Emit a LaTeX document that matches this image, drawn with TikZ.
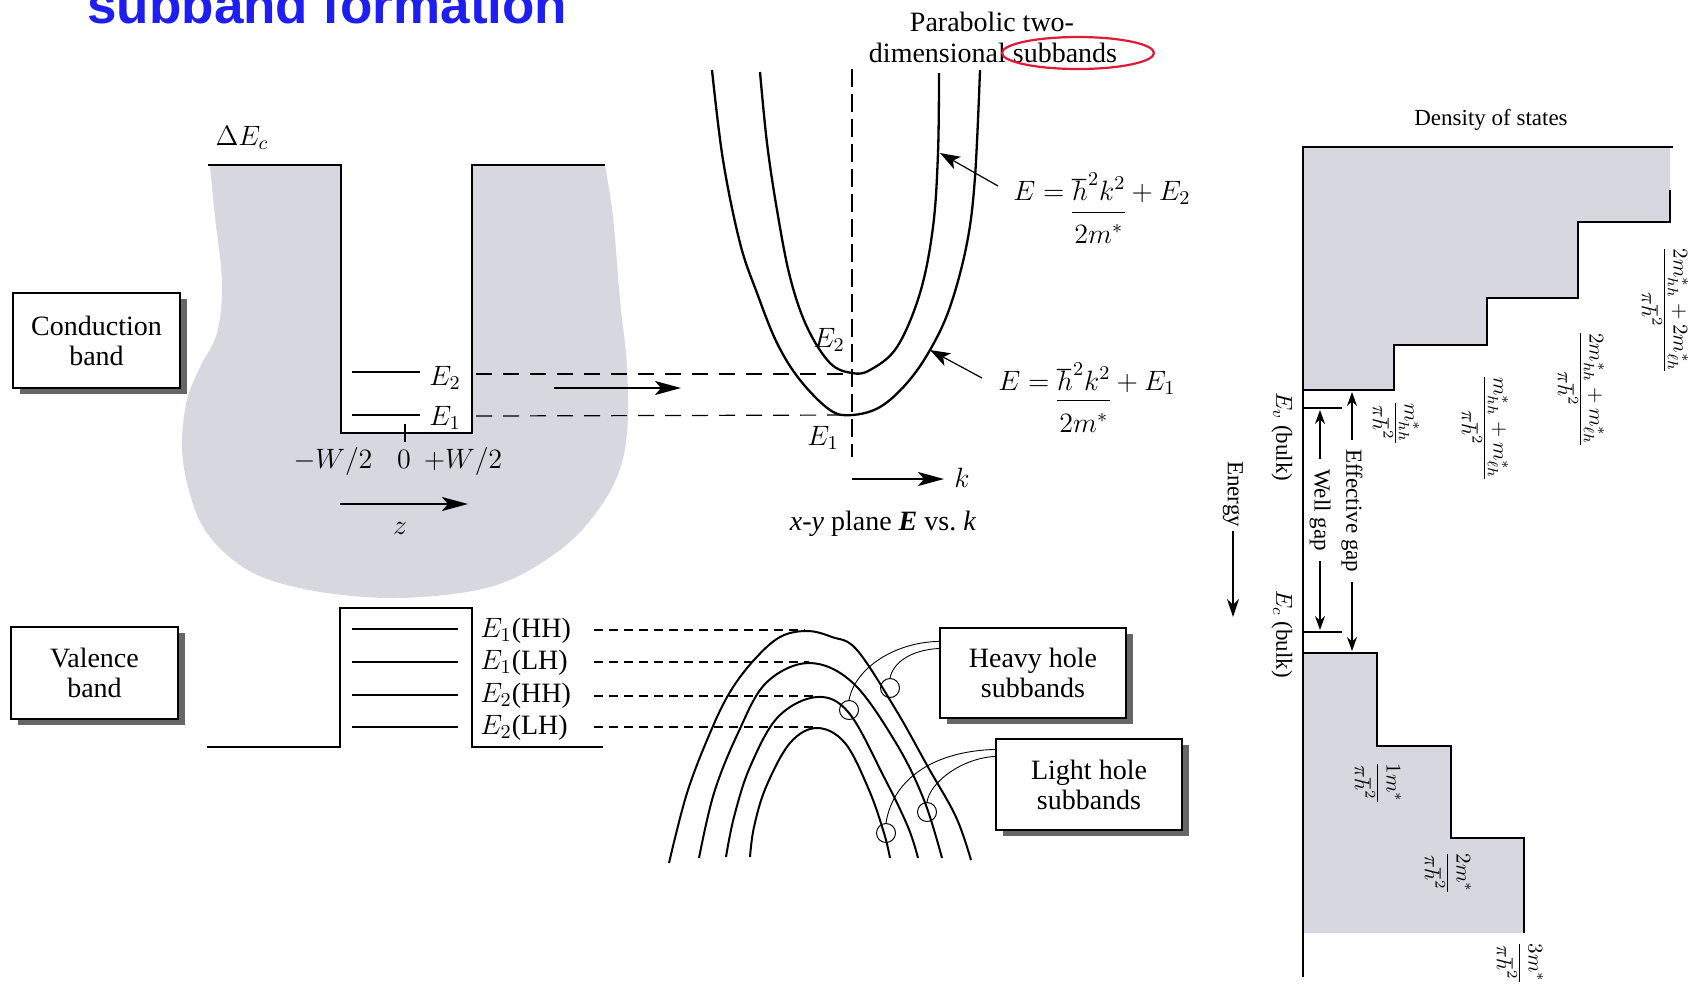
\RequirePackage{fix-cm}
\documentclass[tikz,border=0pt]{standalone}
\usepackage{fontspec}
\setmainfont{Liberation Serif}
\newfontfamily\titlefont{Liberation Sans}
\usetikzlibrary{arrows.meta,shadows,calc}
\definecolor{titleblue}{RGB}{30,30,240}
\definecolor{dotgray}{RGB}{215,216,223}
\definecolor{ringred}{RGB}{225,25,55}
\begin{document}
\begin{tikzpicture}[x=0.5pt,y=-0.5pt,
  band/.style={line width=1.3pt},
  curve/.style={line width=1.15pt},
  hcurve/.style={line width=1pt},
  level/.style={line width=0.6pt},
  thinline/.style={line width=0.45pt},
  cdash/.style={line width=0.6pt, dash pattern=on 8pt off 5.5pt},
  hdash/.style={line width=0.6pt, dash pattern=on 4.5pt off 3pt},
  axdash/.style={line width=0.6pt, dash pattern=on 9pt off 3.5pt},
  bigarrow/.style={line width=0.9pt, -{Stealth[length=13pt,width=7pt,inset=3pt]}},
  farrow/.style={line width=0.6pt, -{Stealth[length=10pt,width=7pt,inset=2.5pt]}},
  darrow/.style={line width=0.6pt, {Stealth[length=7pt,width=5pt]}-{Stealth[length=7pt,width=5pt]}},
  lab/.style={font=\fontsize{14}{16}\selectfont, inner sep=0pt},
  dlab/.style={font=\fontsize{11.5}{13}\selectfont, inner sep=0pt},
  fraclab/.style={font=\fontsize{10.5}{12}\selectfont, inner sep=0pt, rotate=-90},
  labelbox/.style={draw, line width=0.6pt, fill=white, align=center, inner sep=0pt,
     font=\fontsize{14}{15}\selectfont,
     drop shadow={shadow xshift=3.5pt, shadow yshift=-3pt, fill=black!60, opacity=1}},
  ring/.style={circle, draw, line width=0.5pt, minimum size=9.5pt, inner sep=0pt}
]
\useasboundingbox (0,0) rectangle (1697,987);

% ---------- title ----------
\node[anchor=base west, inner sep=0pt, text=titleblue,
      font=\titlefont\bfseries\fontsize{26.5}{30}\selectfont] (title) at (87,23) {subband formation};

% ---------- conduction band quantum well ----------
\fill[dotgray] (210,165) -- (605,165) -- plot[smooth, tension=0.6] coordinates {(605,166) (613,217) (620,300) (627,367) (627,433) (617,477) (593,517) (560,550) (510,580) (460,593) (393,598) (327,593) (270,580) (233,560) (203,527) (187,483) (182,443) (187,400) (200,367) (217,333) (222,283) (215,217) (210,166)} -- cycle;
\fill[white] (341,150) rectangle (472,433);
\draw[band] (208,165) -- (341,165) -- (341,433) -- (472,433) -- (472,165) -- (605,165);
\node[lab] (dEc) at (242,138) {$\Delta E_c$};

\draw[level] (352,372) -- (420,372);
\node[lab, anchor=base west] (wE2) at (429,385) {$E_2$};
\draw[level] (352,415) -- (420,415);
\node[lab, anchor=base west] (wE1) at (429,425) {$E_1$};
\draw[level] (405,424) -- (405,442);
\node[lab, anchor=base] (mw) at (333,468) {$-W/2$};
\node[lab, anchor=base] (zero) at (404,468) {$0$};
\node[lab, anchor=base] (pw) at (463,468) {$+W/2$};
\coordinate (zs) at (340,504);
\coordinate (ze) at (468,504);
\draw[bigarrow] (zs) -- (ze);
\node[lab] (zl) at (400,528) {$z$};

\node[labelbox, minimum width=83.5pt, minimum height=47.5pt] (cb) at (96.5,340.5) {Conduction\\band};

% ---------- conduction parabolas ----------
\coordinate (c2min) at (852,374);
\coordinate (c1min) at (852,415);
\coordinate (w2) at (476,374);
\coordinate (w1) at (476,416);
\draw[cdash] (w2) -- (c2min);
\draw[cdash] (w1) -- (c1min);
\coordinate (as) at (554,388);
\coordinate (ae) at (681,388);
\draw[bigarrow] (as) -- (ae);

\coordinate (axt) at (852,69);
\coordinate (axb) at (852,457);
\draw[axdash] (axt) -- (axb);

\draw[curve] plot[smooth, tension=0.6] coordinates {(712,70) (723,160) (740,243) (757,293) (777,343) (800,380) (830,410) (852,415) (880,407) (907,383) (930,350) (950,307) (967,243) (975,177) (980,70)};
\draw[curve] plot[smooth, tension=0.6] coordinates {(760,72) (767,143) (777,210) (790,277) (807,327) (830,363) (852,373) (870,370) (897,347) (920,293) (933,227) (938,153) (939,73)};

\coordinate (ks) at (852,479);
\coordinate (ke) at (944,479);
\draw[bigarrow] (ks) -- (ke);
\node[lab, anchor=base west] (kl) at (954,487) {$k$};
\node[lab] (pE2) at (829,340) {$E_2$};
\node[lab] (pE1) at (823,438) {$E_1$};

\node[lab, anchor=base] (par1) at (992,31) {Parabolic two-};
\node[lab, anchor=base] (par2) at (993,62) {dimensional subbands};
\draw[ringred, line width=1.1pt] (1078,53) ellipse [x radius=76, y radius=16];

\node[lab, anchor=base west] (fE2) at (1013,200) {$E = \begin{array}[t]{@{}c@{}}\hbar^2k^2\rule[-6pt]{0pt}{6pt}\\\hline\rule{0pt}{15.5pt}2m^*\end{array} + E_2$};
\node[lab, anchor=base west] (fE1) at (998,390) {$E = \begin{array}[t]{@{}c@{}}\hbar^2k^2\rule[-5pt]{0pt}{5pt}\\\hline\rule{0pt}{16pt}2m^*\end{array} + E_1$};
\coordinate (p2arr) at (940,153);
\coordinate (p1arr) at (930,350);
\coordinate (t2) at (998,186);
\coordinate (t1) at (982,378);
\draw[farrow] (t2) -- (p2arr);
\draw[farrow] (t1) -- (p1arr);

\node[lab, anchor=base] (xy) at (883,530) {\textit{x-y} plane \textbf{\textit{E}} vs.\ \textit{k}};

% ---------- valence band ----------
\node[labelbox, minimum width=83.5pt, minimum height=46pt] (vb) at (94.5,673) {Valence\\band};
\draw[band] (207,747) -- (340,747) -- (340,608) -- (472,608) -- (472,747) -- (603,747);
\draw[level] (352,629) -- (458,629);
\draw[level] (352,662) -- (458,662);
\draw[level] (352,695) -- (458,695);
\draw[level] (352,727) -- (458,727);
\node[lab, anchor=base west] (l1) at (480,637) {$E_1$(HH)};
\node[lab, anchor=base west] (l2) at (480,669) {$E_1$(LH)};
\node[lab, anchor=base west] (l3) at (480,702) {$E_2$(HH)};
\node[lab, anchor=base west] (l4) at (480,734) {$E_2$(LH)};

\coordinate (ap1) at (805,630);
\coordinate (ap2) at (809,662);
\coordinate (ap3) at (817,696);
\coordinate (ap4) at (817,727);
\coordinate (hs1) at (594,630);
\coordinate (hs2) at (594,662);
\coordinate (hs3) at (594,696);
\coordinate (hs4) at (594,727);
\draw[hdash] (hs1) -- (ap1);
\draw[hdash] (hs2) -- (ap2);
\draw[hdash] (hs3) -- (ap3);
\draw[hdash] (hs4) -- (ap4);

\draw[hcurve] plot[smooth, tension=0.6] coordinates {(669,863) (687,793) (710,733) (730,692) (754,660) (780,637) (807,631) (832,637) (857,650) (896,710) (928,767) (956,817) (971,860)};
\draw[hcurve] plot[smooth, tension=0.6] coordinates {(699,858) (714,793) (738,733) (766,683) (809,663) (853,683) (896,743) (924,800) (942,858)};
\draw[hcurve] plot[smooth, tension=0.6] coordinates {(726,857) (734,817) (750,767) (778,717) (817,697) (849,713) (884,777) (908,827) (918,858)};
\draw[hcurve] plot[smooth, tension=0.6] coordinates {(750,857) (754,827) (766,787) (790,743) (817,728) (845,743) (869,790) (884,833) (890,858)};

\node[ring] (hc1) at (890,688) {};
\node[ring] (hc2) at (849,710) {};
\node[ring] (lc1) at (927,812) {};
\node[ring] (lc2) at (886,833) {};

\node[labelbox, minimum width=93pt, minimum height=45pt] (hh) at (1033,673) {Heavy hole\\subbands};
\node[labelbox, minimum width=93pt, minimum height=45.5pt] (lh) at (1089,784.5) {Light hole\\subbands};

\draw[thinline] ($(hh.north west)+(0,14)$) .. controls (895,642) and (855,668) .. (hc2.north);
\draw[thinline] ($(hh.north west)+(0,21)$) .. controls (910,650) and (893,663) .. (hc1.north);
\draw[thinline] ($(lh.north west)+(0,11)$) .. controls (935,751) and (893,778) .. (lc2.north);
\draw[thinline] ($(lh.north west)+(0,18)$) .. controls (962,758) and (930,782) .. (lc1.north);

% ---------- density of states ----------
\node[dlab, anchor=base] (dos) at (1491,125) {Density of states};
\fill[dotgray] (1303,147) -- (1670,147) -- (1670,222) -- (1578,222) -- (1578,298) -- (1487,298) -- (1487,345) -- (1394,345) -- (1394,390) -- (1303,390) -- cycle;
\fill[dotgray] (1303,653) -- (1377,653) -- (1377,746) -- (1451,746) -- (1451,838) -- (1524,838) -- (1524,933) -- (1303,933) -- cycle;
\draw[band] (1673,147) -- (1303,147) -- (1303,977);
\draw[band] (1670,190) -- (1670,222) -- (1578,222) -- (1578,298) -- (1487,298) -- (1487,345) -- (1394,345) -- (1394,390) -- (1303,390);
\draw[band] (1303,653) -- (1377,653) -- (1377,746) -- (1451,746) -- (1451,838) -- (1524,838) -- (1524,933);
\draw[level] (1303,408) -- (1342,408);
\draw[level] (1303,632) -- (1342,632);

\node[dlab, rotate=-90] (ev) at (1282,437) {$E_v$ (bulk)};
\node[dlab, rotate=-90] (ec) at (1282,634) {$E_c$ (bulk)};

\coordinate (wgt) at (1320,410);
\coordinate (wgb) at (1320,630);
\draw[darrow] (wgt) -- (wgb);
\node[dlab, rotate=-90, fill=white, inner xsep=5pt, inner ysep=1pt] (wg) at (1320,510) {Well gap};
\coordinate (egt) at (1352,392);
\coordinate (egb) at (1352,651);
\draw[darrow] (egt) -- (egb);
\node[dlab, rotate=-90, fill=white, inner xsep=5pt, inner ysep=1pt] (eg) at (1352,511) {Effective gap};

\node[dlab, rotate=-90] (en) at (1233,494) {Energy};
\coordinate (entip) at (1233,617);
\draw[line width=0.6pt, -{Stealth[length=9pt,width=6pt]}] ([yshift=-2pt]en.east) -- (entip);

\node[fraclab] (f1) at (1396,423) {$\displaystyle\frac{m^*_{hh}}{\pi\hbar^2}$};
\node[fraclab] (f2) at (1485,428) {$\displaystyle\frac{m^*_{hh}+m^*_{\ell h}}{\pi\hbar^2}$};
\node[fraclab] (f3) at (1581,389) {$\displaystyle\frac{2m^*_{hh}+m^*_{\ell h}}{\pi\hbar^2}$};
\node[fraclab] (f4) at (1665,310) {$\displaystyle\frac{2m^*_{hh}+2m^*_{\ell h}}{\pi\hbar^2}$};
\node[fraclab] (f5) at (1378,783) {$\displaystyle\frac{1m^*}{\pi\hbar^2}$};
\node[fraclab] (f6) at (1448,873) {$\displaystyle\frac{2m^*}{\pi\hbar^2}$};
\node[fraclab] (f7) at (1520,963) {$\displaystyle\frac{3m^*}{\pi\hbar^2}$};
\end{tikzpicture}
\end{document}
